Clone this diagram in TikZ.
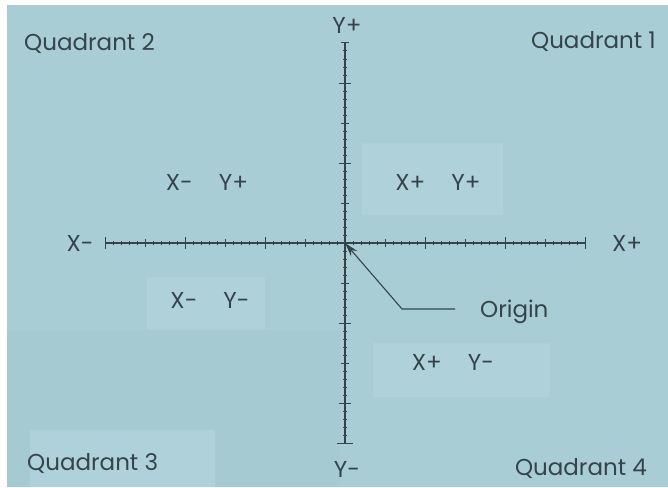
\documentclass[tikz,border=0pt]{standalone}
\usepackage{fontspec}
\setmainfont{Poppins}
\usetikzlibrary{arrows.meta}
\definecolor{bg}{HTML}{A9CDD5}
\definecolor{bglight}{HTML}{AFD1D9}
\definecolor{bgdark}{HTML}{A6CAD2}
\definecolor{ink}{HTML}{34444A}
\begin{document}
\begin{tikzpicture}[x=1pt,y=-1pt,
  lbl/.style={text=ink, font=\fontsize{23}{23}\selectfont, inner sep=0pt, anchor=center},
  axis/.style={draw=ink, line width=1.4pt},
  tick/.style={draw=ink, line width=1pt},
  leader/.style={draw=ink, line width=1.1pt}]
% background
\fill[white] (0,0) rectangle (668,487);
\fill[bg] (7,5) rectangle (668,487);
\fill[bglight] (147,277) rectangle (265,330);
\fill[bglight] (373,343) rectangle (550,397);
\fill[bglight] (362,143) rectangle (503,215);
\fill[bgdark] (7,330) rectangle (340,487);
\fill[bglight] (30,430) rectangle (215,487);
% key points
\coordinate (O) at (345,243);
\coordinate (xl) at (105,243);
\coordinate (xr) at (585,243);
\coordinate (yt) at (345,43);
\coordinate (yb) at (345,443);
\coordinate (bend) at (402,309);
\coordinate (lend) at (455,309);
% axes
\draw[axis] (xl) -- (xr);
\draw[axis] (yt) -- (yb);
% x ticks
\foreach \x in {105,113,...,585} \draw[tick] (\x,241) -- (\x,245);
\foreach \x in {105,145,...,585} \draw[tick] (\x,239) -- (\x,247);
\foreach \x in {105,185,...,585} \draw[tick] (\x,237) -- (\x,249);
% y ticks
\foreach \y in {43,51,...,443} \draw[tick] (343,\y) -- (347,\y);
\foreach \y in {43,83,...,443} \draw[tick] (341,\y) -- (349,\y);
\foreach \y in {83,163,...,403} \draw[tick] (339,\y) -- (351,\y);
\draw[tick] (337,443) -- (353,443);
% leader to origin
\draw[leader, -{Stealth[length=14pt,width=8pt]}] (lend) -- (bend) -- (O);
% labels
\node[lbl] (yplus) at (347,25) {Y+};
\node[lbl] (yminus) at (347,469) {Y-};
\node[lbl] (xminus) at (80,243) {X-};
\node[lbl] (xplus) at (627,243) {X+};
\node[lbl, anchor=west] (q2) at (24,44) {Quadrant 2};
\node[lbl, anchor=east] (q1) at (656,42) {Quadrant 1};
\node[lbl, anchor=west] (q3) at (27,464) {Quadrant 3};
\node[lbl, anchor=east] (q4) at (647,468) {Quadrant 4};
\node[lbl] (a) at (207,182) {X-\hspace{26pt}Y+};
\node[lbl] (b) at (438,182) {X+\hspace{26pt}Y+};
\node[lbl] (c) at (210,300) {X-\hspace{26pt}Y-};
\node[lbl] (d) at (453,362) {X+\hspace{26pt}Y-};
\node[lbl, anchor=west] (origin) at (480,312) {Origin};
\end{tikzpicture}
\end{document}
